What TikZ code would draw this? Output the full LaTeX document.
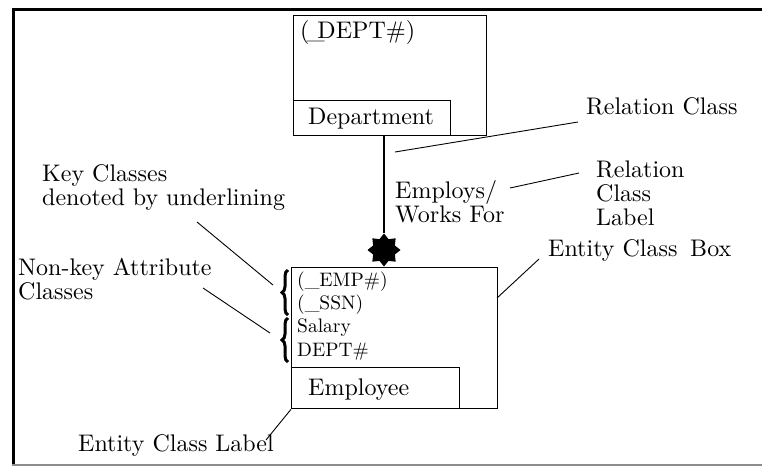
\documentclass[tikz,border=0pt]{standalone}
\usepackage{fontspec}
\setmainfont{lmroman10-regular}[Extension=.otf]
\usetikzlibrary{shapes.geometric,decorations.pathreplacing}
\begin{document}
\begin{tikzpicture}[x=1pt,y=-1pt,
  lbl/.style={inner sep=0pt, anchor=base west, align=left,
    font=\fontsize{24}{24}\selectfont},
  attr/.style={inner sep=0pt, anchor=base west, align=left,
    font=\fontsize{19.5}{23.3}\selectfont},
  entbox/.style={draw, line width=1.3pt, inner sep=0pt, anchor=north west},
  leader/.style={line width=0.9pt},
  keybrace/.style={decorate, decoration={brace, amplitude=6pt}, line width=3pt},
  frameline/.style={line width=3pt}]
\useasboundingbox (0,0) rectangle (762,466);

% frame
\draw[frameline] (13,466) -- (13,9) -- (762,9);
\draw[line width=1.5pt, black!45] (12,465) -- (762,465);

% Department entity
\node[entbox, minimum width=193pt, minimum height=120pt] (dept) at (293,15) {};
\node[entbox, minimum width=157pt, minimum height=35pt] (deptlbl) at (293,100) {};
\node[lbl] (deptkey) at (300,38) {(\kern-0.12em\_\kern-0.3em DEPT\#)};
\node[lbl] (deptname) at (308,124) {Department};

% Employee entity
\node[entbox, minimum width=206pt, minimum height=141pt] (emp) at (291,267) {};
\node[entbox, minimum width=168pt, minimum height=41pt] (emplbl) at (291,367) {};
\node[attr] (attrs) at (297,356) {(\_EMP\#)\\(\_SSN)\\Salary\\DEPT\#};
\node[lbl] (empname) at (308,395) {Employee};

% relation with its many-end marker
\node[star, star points=8, star point ratio=1.4, minimum size=33pt,
      fill=black, inner sep=0pt] (many) at (384,250) {};
\draw[line width=1.3pt] (many.north |- dept.south) -- (many);
\node[lbl] (rellbl) at (395,222) {Employs/\\Works For};

% attribute braces
\coordinate (b1top) at (288,270);
\coordinate (b1bot) at (288,315);
\coordinate (b2top) at (288,318);
\coordinate (b2bot) at (288,362);
\draw[keybrace] (b1bot) -- (b1top);
\draw[keybrace] (b2bot) -- (b2top);

% annotations
\node[lbl] (n-relclass) at (586,114) {Relation Class};
\node[lbl] (n-rellabel) at (596,225) {Relation\\Class\\Label};
\node[lbl] (n-entbox) at (548,256) {Entity Class\hspace{0.2em} Box};
\node[lbl] (n-key) at (42,205) {Key Classes\\denoted by underlining};
\node[lbl] (n-nonkey) at (18,299) {Non-key Attribute\\Classes};
\node[lbl] (n-entlbl) at (78,451) {Entity Class Label};

\coordinate (relclass-a) at (578,122);
\coordinate (relclass-b) at (395,152);
\coordinate (rellabel-a) at (579,173);
\coordinate (rellabel-b) at (510,188);
\coordinate (entbox-a) at (539,259);
\coordinate (entbox-b) at (497,298);
\coordinate (key-a) at (197,222);
\coordinate (key-b) at (273,285);
\coordinate (nonkey-a) at (203,288);
\coordinate (nonkey-b) at (270,333);
\coordinate (entlbl-a) at (266,440);

\draw[leader] (relclass-a) -- (relclass-b);
\draw[leader] (rellabel-a) -- (rellabel-b);
\draw[leader] (entbox-a) -- (entbox-b);
\draw[leader] (key-a) -- (key-b);
\draw[leader] (nonkey-a) -- (nonkey-b);
\draw[leader] (entlbl-a) -- (emplbl.south west);
\end{tikzpicture}
\end{document}
